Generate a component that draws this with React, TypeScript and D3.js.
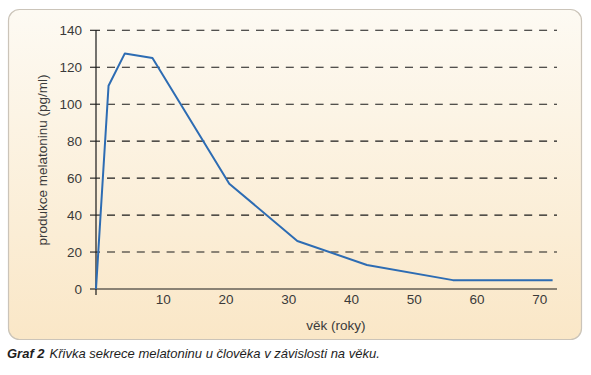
import React from "react";
import * as d3 from "d3";

const ages = [0, 2, 4.6, 9, 21.25, 32.1, 43.2, 56.9, 72.8];
const melatonin = [0, 110, 127.5, 125, 57, 26, 13, 4.8, 4.8];
const yTicks = [0, 20, 40, 60, 80, 100, 120, 140];
const xTicks = [10, 20, 30, 40, 50, 60, 70];
const yLabel = "produkce melatoninu (pg/ml)";
const xLabel = "věk (roky)";
const captionBold = "Graf 2";
const captionText = "Křivka sekrece melatoninu u člověka v závislosti na věku.";

const W = 591;
const H = 375;
const FONT = "'Liberation Sans', Arial, Helvetica, sans-serif";

export default function App() {
  const x = d3.scaleLinear().domain([0, 73.5]).range([96, 557]);
  const y = d3.scaleLinear().domain([0, 140]).range([289, 30.3]);
  const pts = ages.map((a, i) => [a, melatonin[i]] as [number, number]);
  const line = d3
    .line<[number, number]>()
    .x((d) => x(d[0]))
    .y((d) => y(d[1]));
  const x0 = x(0);
  const xEnd = x(73.5);
  const y0 = y(0);

  return (
    <svg
      width={W}
      height={H}
      style={{ position: "absolute", left: 0, top: 0, background: "#fff" }}
      fontFamily={FONT}
    >
      <defs>
        <linearGradient id="bg" x1="0" y1="0" x2="0" y2="1">
          <stop offset="0" stopColor="#fdfaf3" />
          <stop offset="1" stopColor="#fae7c7" />
        </linearGradient>
      </defs>
      <rect
        x={8.5}
        y={9.5}
        width={573}
        height={330}
        rx={11}
        ry={11}
        fill="url(#bg)"
        stroke="#cbc4b9"
        strokeWidth={1.2}
      />
      {yTicks
        .filter((t) => t > 0)
        .map((t) => (
          <line
            key={"g" + t}
            x1={107}
            x2={xEnd}
            y1={y(t)}
            y2={y(t)}
            stroke="#1a1a1a"
            strokeWidth={1.1}
            strokeDasharray="8 6.9"
          />
        ))}
      {yTicks.map((t) => (
        <g key={"yt" + t}>
          <line
            x1={x0 - 6}
            x2={t > 0 ? x0 + 4 : x0}
            y1={y(t)}
            y2={y(t)}
            stroke="#1a1a1a"
            strokeWidth={1.1}
          />
          <text
            x={82}
            y={y(t)}
            dy="0.35em"
            textAnchor="end"
            fontSize={13.5}
            fill="#3a3a3a"
          >
            {t}
          </text>
        </g>
      ))}
      <line x1={x0} x2={x0} y1={y(140)} y2={y0 + 6} stroke="#1a1a1a" strokeWidth={1.2} />
      <line x1={x0} x2={xEnd} y1={y0} y2={y0} stroke="#1a1a1a" strokeWidth={1.2} />
      {xTicks.map((t) => (
        <text
          key={"xt" + t}
          x={x(t)}
          dx={4.6}
          y={304}
          textAnchor="middle"
          fontSize={13.5}
          fill="#3a3a3a"
        >
          {t}
        </text>
      ))}
      <text x={336} y={330} textAnchor="middle" fontSize={13.5} fill="#3a3a3a">
        {xLabel}
      </text>
      <text
        transform={`translate(47,160) rotate(-90)`}
        textAnchor="middle"
        fontSize={13.5}
        fill="#3a3a3a"
      >
        {yLabel}
      </text>
      <path
        d={line(pts) || ""}
        fill="none"
        stroke="#2d6cb3"
        strokeWidth={2}
        strokeLinejoin="round"
      />
      <text x={7} y={358} fontSize={13} fill="#1e1e1e" fontStyle="italic">
        <tspan fontWeight="bold">{captionBold}</tspan>
        <tspan dx={5}>{captionText}</tspan>
      </text>
    </svg>
  );
}
